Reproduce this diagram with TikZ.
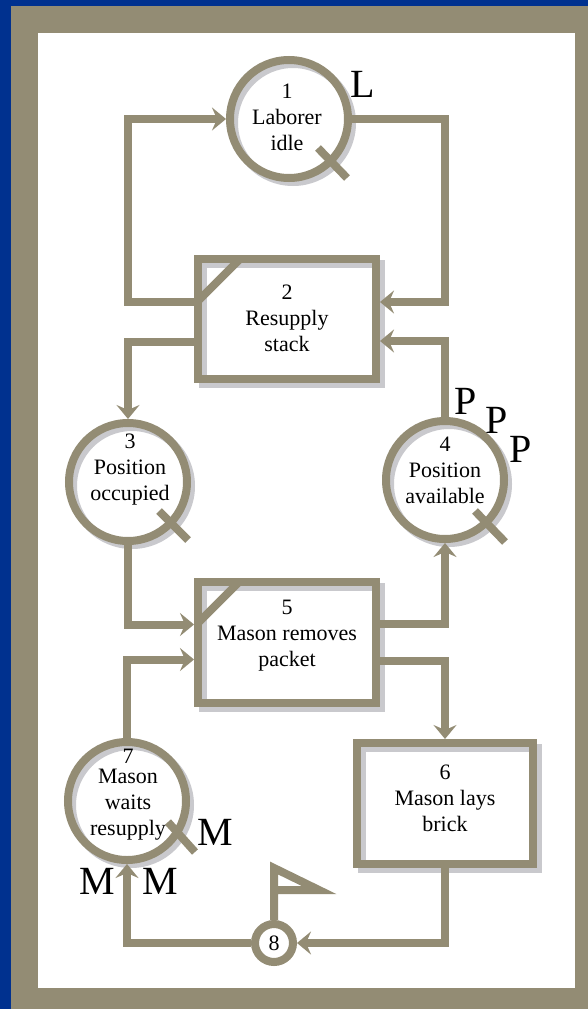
\documentclass[tikz,border=0pt]{standalone}
\usepackage{fontspec}
\setmainfont{Liberation Serif}
\usetikzlibrary{arrows.meta,calc}
\definecolor{frameblue}{HTML}{00318F}
\definecolor{olive}{HTML}{938C74}
\definecolor{shade}{HTML}{C9C9CD}

\begin{document}
\begin{tikzpicture}[x=1pt,y=-1pt,
  >={Stealth[length=14pt,width=23pt,inset=5pt]},
  ring/.style={circle, draw=olive, line width=8pt, minimum size=118pt, inner sep=0pt,
    preaction={draw=shade, line width=8pt, transform canvas={shift={(4,4)}}}},
  box/.style={rectangle, draw=olive, line width=8pt, minimum width=178pt, minimum height=120pt, inner sep=0pt,
    preaction={draw=shade, line width=8pt, transform canvas={shift={(5,5)}}}},
  smallring/.style={circle, draw=olive, fill=white, line width=8pt, minimum size=38pt, inner sep=0pt,
    font=\fontsize{22}{26}\selectfont},
  lbl/.style={align=center, inner sep=0pt, font=\fontsize{22}{26}\selectfont},
  big/.style={inner sep=0pt, font=\fontsize{40}{40}\selectfont},
  conn/.style={draw=olive, line width=8pt, line join=miter, ->},
  stroke/.style={draw=olive, line width=8pt},
]
\useasboundingbox (0,0) rectangle (588,1009);

% frame
\fill[frameblue] (0,0) rectangle (588,1009);
\fill[olive] (11,6) rectangle (588,1009);
\fill[white] (38,33) rectangle (575,988);

% activities and queues
\node[ring] (n1) at (289,119) {};
\node[box]  (n2) at (287,319) {};
\node[ring] (n3) at (128,482) {};
\node[ring] (n4) at (445,480) {};
\node[box, minimum height=121pt] (n5) at (287,642.5) {};
\node[box, minimum width=176pt, minimum height=121pt] (n6) at (445,803.5) {};
\node[ring] (n7) at (127,801) {};

% queue tails
\draw[stroke] ($(n1)+(29,29)$) -- ($(n1)+(58,59)$);
\draw[stroke] ($(n3)+(31,29)$) -- ($(n3)+(60,58)$);
\draw[stroke] ($(n4)+(30,31)$) -- ($(n4)+(60,62)$);
\draw[stroke] ($(n7)+(41,21)$) -- ($(n7)+(68,51)$);

% combi corners
\draw[stroke] ($(n2)+(-47,-60)$) -- ($(n2)+(-89,-18)$);
\draw[stroke] ($(n5)+(-48,-60.5)$) -- ($(n5)+(-89,-19.5)$);

% texts
\node[lbl] (t1) at (287,117) {1\\Laborer\\idle};
\node[lbl] (t2) at (287,318) {2\\Resupply\\stack};
\node[lbl] (t3) at (130,470) {3\\Position\\occupied};
\node[lbl] (t4) at (445,470) {4\\Position\\available};
\node[lbl] (t5) at (287,636) {5\\Mason removes\\packet};
\node[lbl] (t6) at (445,798) {6\\Mason lays\\brick};
\node[lbl] (t7) at (128,795) {7\\[-6pt]Mason\\waits\\resupply};

% connectors
\draw[conn] ($(n2.west)+(0,-17)$) -| (n3.north |- n1.west) -- (n1.west);
\draw[conn] ($(n2.west)+(0,23)$) -| (n3.north);
\draw[conn] (n1.east) -| ($(n4.north |- n2.east)+(0,-17)$) -- ($(n2.east)+(0,-17)$);
\draw[conn] (n4.north) |- ($(n2.east)+(0,22)$);
\draw[conn] (n3.south) |- ($(n5.west)+(0,-18)$);
\draw[conn] (n7.north) |- ($(n5.west)+(0,17)$);
\draw[conn] ($(n5.east)+(0,-19)$) -| (n4.south);
\draw[conn] ($(n5.east)+(0,18)$) -| (n6.north);

% counter with flag
\node[smallring] (n8) at (274,943) {8};
\draw[stroke, line join=miter] (n8.north) -- ($(n8)+(0,-75)$) -- ($(n8)+(45,-53)$) -- ($(n8)+(0,-53)$);
\draw[conn] (n6.south) |- (n8.east);
\draw[conn] (n8.west) -| (n7.south);

% resource letters
\node[big] (L)  at (363,84)  {L};
\node[big] (p1) at (466,401) {P};
\node[big] (p2) at (497,420) {P};
\node[big] (p3) at (521,449) {P};
\node[big] (m1) at (215,832) {M};
\node[big] (m2) at (97,881)  {M};
\node[big] (m3) at (160,881) {M};
\end{tikzpicture}
\end{document}
